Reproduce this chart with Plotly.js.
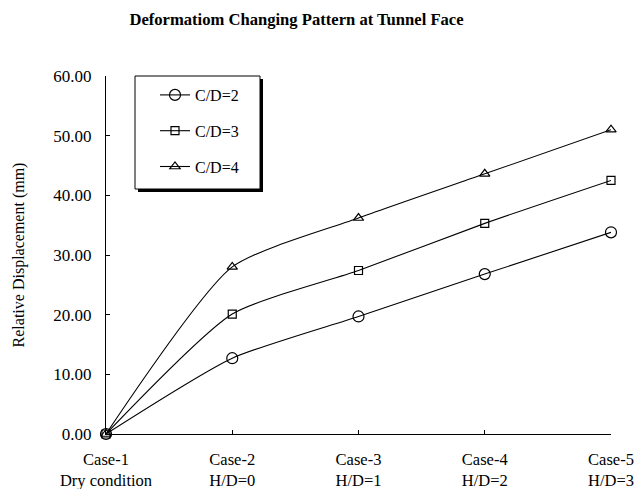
<!DOCTYPE html>
<html>
<head>
<meta charset="utf-8">
<script src="https://cdn.plot.ly/plotly-3.0.1.min.js"></script>
<style>
html,body{margin:0;padding:0;background:#fff;}
#chart{width:635px;height:489px;}
</style>
</head>
<body>
<div id="chart"></div>
<script>
var categories = ["Case-1<br>Dry condition", "Case-2<br>H/D=0", "Case-3<br>H/D=1", "Case-4<br>H/D=2", "Case-5<br>H/D=3"];
var seriesNames = ["C/D=2", "C/D=3", "C/D=4"];
var cd2 = [0, 12.7, 19.7, 26.8, 33.8];
var cd3 = [0, 20.1, 27.4, 35.3, 42.5];
var cd4 = [0, 28.0, 36.2, 43.6, 51.0];
var yTicks = [0, 10, 20, 30, 40, 50, 60];
var yTickText = ["0.00", "10.00", "20.00", "30.00", "40.00", "50.00", "60.00"];

var FONT = "'Liberation Serif', 'Times New Roman', serif";
var symbols = ["circle-open", "square-open", "triangle-up-open"];
var sizes = [11, 8, 9];
var allSeries = [cd2, cd3, cd4];

var traces = allSeries.map(function (vals, i) {
  return {
    x: categories,
    y: vals,
    name: seriesNames[i],
    legendgroup: "g" + i,
    type: "scatter",
    mode: "lines+markers",
    line: {color: "#000", width: 1.1, shape: "spline", smoothing: 0.6},
    marker: {symbol: symbols[i], size: sizes[i], color: "#000", line: {color: "#000", width: 1.2}},
    cliponaxis: false
  };
});

// plot area in px: x 106..611, y 76..434
function px2x(p) { return (p - 106) / 505; }
function py2y(p) { return (434 - p) / 358; }

var layout = {
  width: 635,
  height: 489,
  paper_bgcolor: "#fff",
  plot_bgcolor: "#fff",
  margin: {l: 106, r: 24, t: 76, b: 55},
  font: {family: FONT, size: 16, color: "#000"},
  title: {
    text: "<b>Deformatiom Changing Pattern at Tunnel Face</b>",
    font: {family: FONT, size: 16.6, color: "#000"},
    x: 296.5 / 635, xanchor: "center", xref: "container",
    y: 1 - 19 / 489, yanchor: "middle", yref: "container"
  },
  xaxis: {
    type: "category",
    range: [0, 4],
    showgrid: false,
    zeroline: false,
    showline: true,
    linecolor: "#000",
    linewidth: 1,
    ticks: "inside",
    ticklen: 4,
    tickcolor: "#000",
    tickfont: {family: FONT, size: 16.5, color: "#000"},
    ticklabelstandoff: 10,
    fixedrange: true
  },
  yaxis: {
    range: [0, 60],
    tickvals: yTicks,
    ticktext: yTickText,
    showgrid: false,
    zeroline: false,
    showline: true,
    linecolor: "#000",
    linewidth: 1,
    ticks: "inside",
    ticklen: 4,
    tickcolor: "#000",
    tickfont: {family: FONT, size: 17, color: "#000"},
    ticklabelstandoff: 10,
    title: {text: "Relative Displacement (mm)", font: {family: FONT, size: 16, color: "#000"}, standoff: 24},
    fixedrange: true
  },
  showlegend: true,
  legend: {
    x: px2x(155), y: py2y(78), xanchor: "left", yanchor: "top",
    bgcolor: "rgba(0,0,0,0)",
    borderwidth: 0,
    font: {family: FONT, size: 16, color: "#000"},
    traceorder: "grouped",
    tracegroupgap: 12
  },
  shapes: [
    {type: "rect", xref: "paper", yref: "paper", x0: px2x(138), x1: px2x(263), y0: py2y(192), y1: py2y(79),
     fillcolor: "#000", line: {width: 0}, layer: "above"},
    {type: "rect", xref: "paper", yref: "paper", x0: px2x(135), x1: px2x(260), y0: py2y(189), y1: py2y(76),
     fillcolor: "#fff", line: {color: "#000", width: 1}, layer: "above"}
  ]
};

Plotly.newPlot("chart", traces, layout, {displayModeBar: false, staticPlot: true});
</script>
</body>
</html>
